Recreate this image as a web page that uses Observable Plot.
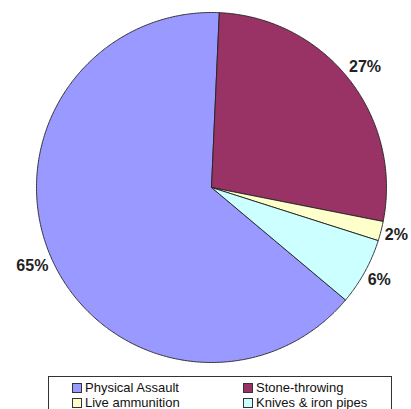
<!DOCTYPE html>
<html>
<head>
<meta charset="utf-8">
<script src="https://cdn.jsdelivr.net/npm/d3@7"></script>
<script src="https://cdn.jsdelivr.net/npm/@observablehq/plot@0.6"></script>
<style>
  html, body { margin: 0; padding: 0; background: #fff; }
  #chart { position: relative; width: 411px; height: 409px; overflow: hidden; }
  #legend { position: absolute; left: 48px; top: 376px; width: 344px; height: 44px;
    border: 1px solid #333; box-sizing: border-box; font-family: "Liberation Sans", Arial, sans-serif;
    font-size: 13px; color: #111; }
  .item { position: absolute; display: flex; align-items: center; white-space: nowrap; line-height: 15px; height: 15px; }
  .sw { width: 8px; height: 8px; border: 1px solid #333; margin-right: 3px; }
</style>
</head>
<body>
<div id="chart"></div>
<script>
const categories = ["Physical Assault", "Stone-throwing", "Live ammunition", "Knives & iron pipes"];
const values = [64.6, 27.4, 1.8, 6.2];
const labels = ["65%", "27%", "2%", "6%"];
const colors = ["#9999FF", "#993366", "#FFFFCC", "#CCFFFF"];

const W = 411, H = 374, cx = 211, cy = 187, R = 175;
const startDeg = 130;

const data = categories.map((c, i) => ({cat: c, value: values[i], label: labels[i]}));
const pie = d3.pie().sort(null).value(d => d.value)
  .startAngle(startDeg * Math.PI / 180).endAngle((startDeg + 360) * Math.PI / 180);
const arcs = pie(data);

// polygon points for each slice (angle clockwise from 12 o'clock, y up)
const pts = [];
arcs.forEach(a => {
  const cat = a.data.cat;
  pts.push({cat, x: 0, y: 0});
  const n = Math.max(2, Math.ceil((a.endAngle - a.startAngle) / (Math.PI / 360)));
  for (let k = 0; k <= n; k++) {
    const t = a.startAngle + (a.endAngle - a.startAngle) * k / n;
    pts.push({cat, x: Math.sin(t), y: Math.cos(t)});
  }
  pts.push({cat, x: 0, y: 0});
});

// label positions just outside the rim
const lab = arcs.map(a => {
  const t = (a.startAngle + a.endAngle) / 2;
  const w = a.data.label.length * 9.5, h = 13;
  const r = (R + 5 + (w / 2) * Math.abs(Math.sin(t)) + (h / 2) * Math.abs(Math.cos(t))) / R;
  return {label: a.data.label, x: r * Math.sin(t), y: r * Math.cos(t)};
});

const plot = Plot.plot({
  width: W, height: H,
  margin: 0,
  x: {domain: [-cx / R, (W - cx) / R], axis: null},
  y: {domain: [-(H - cy) / R, cy / R], axis: null},
  color: {domain: categories, range: colors},
  style: {background: "transparent"},
  marks: [
    Plot.line(pts, {x: "x", y: "y", z: "cat", fill: "cat", stroke: "#222", strokeWidth: 0.9, strokeLinejoin: "round"}),
    Plot.text(lab, {x: "x", y: "y", text: "label", fontSize: 16, fontWeight: "bold",
      fontFamily: "Liberation Sans, Arial, sans-serif", fill: "#222"})
  ]
});
const chart = document.getElementById("chart");
chart.appendChild(plot);

// legend
const legend = document.createElement("div");
legend.id = "legend";
const pos = [[23, 3], [194, 3], [23, 18], [194, 18]];
categories.forEach((c, i) => {
  const it = document.createElement("div");
  it.className = "item";
  it.style.left = pos[i][0] + "px";
  it.style.top = pos[i][1] + "px";
  const sw = document.createElement("span");
  sw.className = "sw";
  sw.style.background = colors[i];
  const tx = document.createElement("span");
  tx.textContent = c;
  it.appendChild(sw); it.appendChild(tx);
  legend.appendChild(it);
});
chart.appendChild(legend);
</script>
</body>
</html>
